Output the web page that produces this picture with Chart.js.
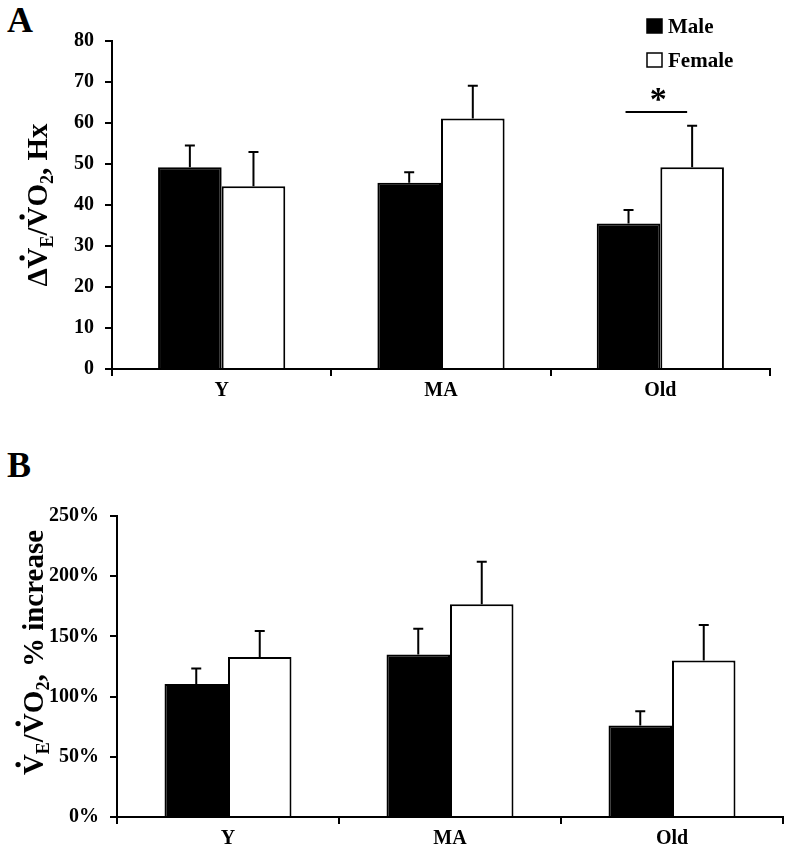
<!DOCTYPE html>
<html>
<head>
<meta charset="utf-8">
<script src="https://cdn.jsdelivr.net/npm/chart.js@4.4.1/dist/chart.umd.min.js"></script>
<style>
  html, body { margin: 0; padding: 0; background: #fff; }
  body { width: 786px; height: 848px; position: relative; overflow: hidden; }
  canvas { position: absolute; left: 0; }
  #chartA { top: 0; }
  #chartB { top: 420px; }
  .panel { position: absolute; left: 7px; font: bold 36px "Liberation Serif", "Times New Roman", serif; line-height: 1; }
</style>
</head>
<body>
<div class="panel" style="top:2px">A</div>
<div class="panel" style="top:447px">B</div>
<canvas id="chartA" width="786" height="420"></canvas>
<canvas id="chartB" width="786" height="428"></canvas>
<script>
// groups on the x axis
const groups = ['Y', 'MA', 'Old'];

// panel A: delta VE/VO2, Hx
const hxMale = [49.2, 45.4, 35.5];
const hxMaleErr = [5.3, 2.6, 3.3];
const hxFemale = [44.6, 61.1, 49.2];
const hxFemaleErr = [8.3, 8.0, 10.1];

// panel B: VE/VO2, % increase
const incMale = [110.5, 135, 76];
const incMaleErr = [12.9, 21.4, 11.9];
const incFemale = [132.8, 176.6, 130];
const incFemaleErr = [21.7, 35.4, 29.5];

const serif = '"Liberation Serif", "Times New Roman", serif';
Chart.defaults.font.family = serif;
Chart.defaults.font.weight = 'bold';
Chart.defaults.color = '#000';

// error bars, only the upper whisker like the original
const errorBars = {
  id: 'errorBars',
  afterDatasetsDraw(chart) {
    const ctx = chart.ctx;
    const yScale = chart.scales.y;
    ctx.save();
    ctx.strokeStyle = '#000';
    ctx.lineWidth = 2;
    chart.data.datasets.forEach((ds, i) => {
      const meta = chart.getDatasetMeta(i);
      meta.data.forEach((bar, j) => {
        const top = yScale.getPixelForValue(ds.data[j] + ds.errors[j]);
        ctx.beginPath();
        ctx.moveTo(bar.x, bar.y);
        ctx.lineTo(bar.x, top);
        ctx.moveTo(bar.x - 5, top);
        ctx.lineTo(bar.x + 5, top);
        ctx.stroke();
      });
    });
    ctx.restore();
  }
};

// rotated axis title with subscripts and dots over the V's
function drawTitle(ctx, parts, x, cy, size) {
  ctx.save();
  ctx.fillStyle = '#000';
  let total = 0;
  parts.forEach(p => {
    ctx.font = 'bold ' + Math.round(size * (p.sub ? 0.62 : 1)) + 'px ' + serif;
    p.w = ctx.measureText(p.t).width;
    total += p.w;
  });
  ctx.translate(x, cy);
  ctx.rotate(-Math.PI / 2);
  let pos = -total / 2;
  parts.forEach(p => {
    ctx.font = 'bold ' + Math.round(size * (p.sub ? 0.62 : 1)) + 'px ' + serif;
    ctx.fillText(p.t, pos, p.sub ? size * 0.22 : 0);
    if (p.dot) {
      ctx.beginPath();
      ctx.arc(pos + p.w / 2, -size * 0.86, size * 0.09, 0, Math.PI * 2);
      ctx.fill();
    }
    pos += p.w;
  });
  ctx.restore();
}

function barChart(id, male, maleErr, female, femaleErr, yOpts, pad, xHeight, catPct, extra) {
  return new Chart(document.getElementById(id), {
    type: 'bar',
    data: {
      labels: groups,
      datasets: [{
        label: 'Male',
        data: male,
        errors: maleErr,
        backgroundColor: '#000',
        borderColor: '#000',
        borderWidth: 2
      }, {
        label: 'Female',
        data: female,
        errors: femaleErr,
        backgroundColor: '#fff',
        borderColor: '#000',
        borderWidth: 2
      }]
    },
    options: {
      responsive: false,
      animation: false,
      devicePixelRatio: 1,
      layout: { padding: pad },
      datasets: { bar: { categoryPercentage: catPct, barPercentage: 1 } },
      plugins: { legend: { display: false }, tooltip: { enabled: false } },
      scales: {
        x: {
          grid: { offset: true, drawOnChartArea: false, tickLength: 7, color: '#000', lineWidth: 2 },
          border: { color: '#000', width: 2 },
          ticks: { font: { size: 20, weight: 'bold' }, padding: 3 },
          afterFit: s => { s.height = xHeight; }
        },
        y: Object.assign({
          beginAtZero: true,
          grid: { drawOnChartArea: false, tickLength: 7, color: '#000', lineWidth: 2 },
          border: { color: '#000', width: 2 },
          afterFit: s => { s.width = pad.yWidth; }
        }, yOpts)
      }
    },
    plugins: [errorBars, extra]
  });
}

// panel A extras: legend, significance star, axis title
const panelA = {
  id: 'panelA',
  afterDraw(chart) {
    const ctx = chart.ctx;
    const ds = chart.data.datasets;
    ctx.save();
    ds.forEach((d, i) => {
      const y = 19 + i * 34;
      ctx.fillStyle = d.backgroundColor;
      ctx.fillRect(647, y, 15, 14);
      ctx.strokeStyle = '#000';
      ctx.lineWidth = 1.5;
      ctx.strokeRect(647, y, 15, 14);
      ctx.fillStyle = '#000';
      ctx.font = 'bold 21px ' + serif;
      ctx.textBaseline = 'alphabetic';
      ctx.fillText(d.label, 668, y + 14);
    });
    // significance bar over the Old group
    const m = chart.getDatasetMeta(0).data[2];
    const f = chart.getDatasetMeta(1).data[2];
    const ly = chart.scales.y.getPixelForValue(62.7);
    ctx.strokeStyle = '#000';
    ctx.lineWidth = 2;
    ctx.beginPath();
    ctx.moveTo(m.x - 3, ly);
    ctx.lineTo(f.x - 5, ly);
    ctx.stroke();
    ctx.font = 'bold 34px ' + serif;
    ctx.textAlign = 'center';
    ctx.fillText('*', (m.x + f.x) / 2 - 2, ly - 2);
    ctx.restore();
    const c = (chart.chartArea.top + chart.chartArea.bottom) / 2;
    drawTitle(ctx, [
      { t: '\u0394' }, { t: 'V', dot: true }, { t: 'E', sub: true }, { t: '/' },
      { t: 'V', dot: true }, { t: 'O' }, { t: '2', sub: true }, { t: ', Hx' }
    ], 47, c, 29);
  }
};

const panelB = {
  id: 'panelB',
  afterDraw(chart) {
    const c = (chart.chartArea.top + chart.chartArea.bottom) / 2 - 14;
    drawTitle(chart.ctx, [
      { t: 'V', dot: true }, { t: 'E', sub: true }, { t: '/' },
      { t: 'V', dot: true }, { t: 'O' }, { t: '2', sub: true }, { t: ', % increase' }
    ], 43, c, 29);
  }
};

const padA = { top: 41, left: 0, right: 16, bottom: 0, yWidth: 112 };
barChart('chartA', hxMale, hxMaleErr, hxFemale, hxFemaleErr, {
  max: 80,
  ticks: { stepSize: 10, font: { size: 20, weight: 'bold' }, padding: 11 }
}, padA, 51, 0.58, panelA);

const padB = { top: 96, left: 0, right: 3, bottom: 0, yWidth: 117 };
barChart('chartB', incMale, incMaleErr, incFemale, incFemaleErr, {
  max: 250,
  ticks: { stepSize: 50, font: { size: 20, weight: 'bold' }, padding: 11, callback: v => v + '%' }
}, padB, 31, 0.572, panelB);
</script>
</body>
</html>
